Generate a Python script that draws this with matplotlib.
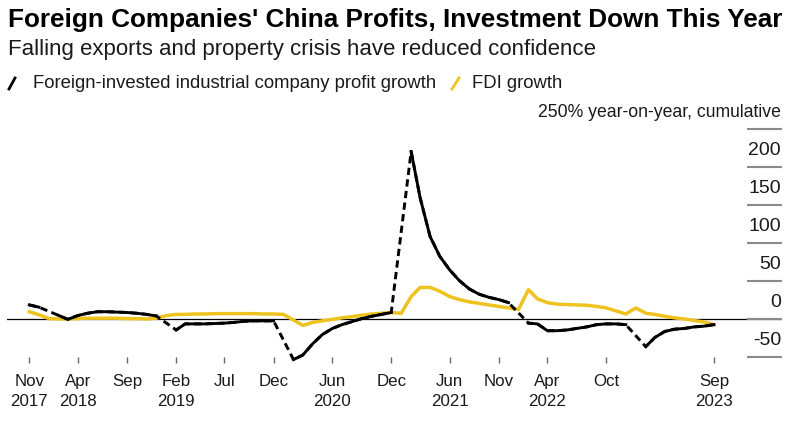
import numpy as np
import pandas as pd
import matplotlib
matplotlib.use("Agg")
import matplotlib.pyplot as plt
import matplotlib.dates as mdates
from matplotlib.lines import Line2D

# monthly data, Nov 2017 - Sep 2023 (profits have no January figure)
months = pd.date_range("2017-11-01", "2023-09-01", freq="MS")

profit_growth = [19, 16,
                 np.nan, 5, 0, 5, 8, 10, 10, 9.5, 9, 8, 6.5, 4.5,
                 np.nan, -14, -6, -6, -6, -5.5, -5, -4, -2.5, -2, -2, -2,
                 np.nan, -53, -47, -32, -20, -12, -7, -3, 1, 4, 6.5, 9,
                 np.nan, 221, 160, 109, 83, 65, 51, 40, 33, 29, 26, 22,
                 np.nan, -5, -6, -15, -15, -14, -12, -10, -7, -6, -6, -7,
                 np.nan, -36, -24, -16, -13, -12, -10, -9, -7]

fdi_growth = [10, 6,
              1, 0.5, 0.5, 1, 1.5, 1.5, 1.5, 1.5, 1, 1, 0.5, 1.5,
              5, 6.5, 6.5, 7, 7, 7.5, 7.5, 7.5, 7.5, 7.5, 7, 7,
              6.5, -1, -8, -4, -2, 0, 2, 3.5, 5.5, 7, 8, 9,
              8, 30, 42, 42, 37, 30, 26, 23, 21, 19, 17, 15,
              13, 39, 27, 22, 20, 19.5, 19, 18.5, 17, 15, 11, 7,
              15, 8, 6.5, 4, 2, 0.5, -1.5, -3.5, -7]

tick_dates = ["2017-11-01", "2018-04-01", "2018-09-01", "2019-02-01", "2019-07-01",
              "2019-12-01", "2020-06-01", "2020-12-01", "2021-06-01", "2021-11-01",
              "2022-04-01", "2022-10-01", "2023-09-01"]
tick_labels = ["Nov\n2017", "Apr\n2018", "Sep", "Feb\n2019", "Jul", "Dec", "Jun\n2020",
               "Dec", "Jun\n2021", "Nov", "Apr\n2022", "Oct", "Sep\n2023"]

y_ticks = [250, 200, 150, 100, 50, 0, -50]
y_labels = ["250% year-on-year, cumulative", "200", "150", "100", "50", "0", "-50"]

BLACK = "#000000"
YELLOW = "#EEC31F"
TEXT = "#1a1a1a"

plt.rcParams["font.family"] = ["Liberation Sans", "DejaVu Sans"]

profit = pd.Series(profit_growth, index=months)
fdi = pd.Series(fdi_growth, index=months)

fig = plt.figure(figsize=(8, 4.25), dpi=100)
ax = fig.add_axes([0.00875, 0.1459, 0.96875, 0.5494])

ax.axhline(0, color="black", lw=0.9, zorder=1)
ax.plot(fdi.index, fdi.values, color=YELLOW, lw=2.5, zorder=2)
# dashed where January is missing, solid elsewhere
p = profit.dropna()
ax.plot(p.index, p.values, color=BLACK, lw=2.1, ls=(0, (2.5, 1.5)), zorder=3)
ax.plot(profit.index, profit.values, color=BLACK, lw=2.1, zorder=4)

left = mdates.date2num(months[0]) - 2.28 * 30.44
right = mdates.date2num(months[-1]) + 6.96 * 30.44
ax.set_xlim(left, right)
ax.set_ylim(-57.5, 250)

ax.set_xticks(pd.to_datetime(tick_dates), tick_labels)
ax.tick_params(axis="x", direction="in", length=4.3, width=1, color="#666666",
               pad=8, labelsize=12.2, labelcolor=TEXT)
for lbl in ax.get_xticklabels():
    lbl.set_linespacing(1.4)
ax.set_yticks([])
for s in ax.spines.values():
    s.set_visible(False)

# short grid marks on the right with labels above them
ax.hlines(y_ticks, 0.955, 1.0, transform=ax.get_yaxis_transform(),
          color="#8a8a8a", lw=1.5, clip_on=False)
for v, lab in zip(y_ticks, y_labels):
    ax.annotate(lab, xy=(1.0, v), xycoords=ax.get_yaxis_transform(),
                xytext=(-1, 17), textcoords="offset pixels",
                ha="right", va="center",
                fontsize=12.7 if v == 250 else 14, color=TEXT)

fig.text(0.01, 1 - 20 / 425, "Foreign Companies' China Profits, Investment Down This Year",
         fontsize=18.8, fontweight="bold", va="center", ha="left",
         family=["Liberation Sans Narrow", "Liberation Sans"])
fig.text(0.01, 1 - 50 / 425, "Falling exports and property crisis have reduced confidence",
         fontsize=16, va="center", ha="left", color=TEXT)

# legend
fig.add_artist(Line2D([9 / 800, 15 / 800], [1 - 89 / 425, 1 - 78 / 425],
                      transform=fig.transFigure, color=BLACK, lw=2))
fig.text(33 / 800, 1 - 83 / 425, "Foreign-invested industrial company profit growth",
         fontsize=13.3, va="center", ha="left", color=TEXT)
fig.add_artist(Line2D([452 / 800, 459 / 800], [1 - 89 / 425, 1 - 78 / 425],
                      transform=fig.transFigure, color=YELLOW, lw=2))
fig.text(472 / 800, 1 - 83 / 425, "FDI growth",
         fontsize=13.3, va="center", ha="left", color=TEXT)

fig.savefig("out.png", dpi=100)
